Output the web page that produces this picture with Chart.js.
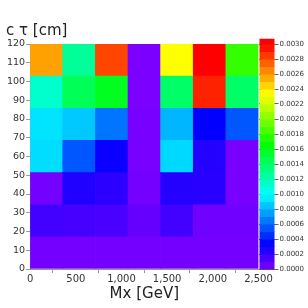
<!DOCTYPE html>
<html>
<head>
<meta charset="utf-8">
<script src="https://cdn.jsdelivr.net/npm/chart.js@4"></script>
<style>
body{margin:0;background:#fff}
#wrap{width:308px;height:308px}
</style>
</head>
<body>
<div id="wrap"><canvas id="grafico"></canvas></div>
<script>
// bins: 7 mass bins x 7 lifetime bins
const mxEdges=[0,357.14,714.29,1071.43,1428.57,1785.71,2142.86,2500]
const ctauEdges=[0,17.14,34.29,51.43,68.57,85.71,102.86,120]
// values per c tau row, bottom row first
const fila1=[0.00003,0.00003,0.00003,0.00003,0.00003,0.00003,0.00003]
const fila2=[0.00016,0.00015,0.00014,0.00007,0.00016,0.00004,0.00004]
const fila3=[0.00003,0.00025,0.00022,0.00003,0.00024,0.00023,0.00002]
const fila4=[0.00091,0.00056,0.00031,0.00002,0.00090,0.00024,0.00002]
const fila5=[0.00093,0.00086,0.00064,0.00002,0.00081,0.00033,0.00056]
const fila6=[0.00113,0.00144,0.00158,0.00001,0.00140,0.00291,0.00140]
const fila7=[0.00258,0.00127,0.00282,0.00001,0.00233,0.00300,0.00180]
const filas=[fila1,fila2,fila3,fila4,fila5,fila6,fila7]
const colorMax=0.003

const colorDe=(v)=>{
    let t=Math.min(Math.max(v/colorMax,0),1)
    return 'hsl('+(270*(1-t)).toFixed(1)+',100%,50%)'
}

const datasets=filas.map((fila,j)=>({
    label:'fila'+j,
    data:fila.map((v,i)=>({x:(mxEdges[i]+mxEdges[i+1])/2,y:[ctauEdges[j],ctauEdges[j+1]]})),
    backgroundColor:fila.map(colorDe),
    borderWidth:0,
    grouped:false,
    barPercentage:1,
    categoryPercentage:1
}))

const barraColor={
    id:'barraColor',
    afterDraw(chart){
        const s=chart.scales.cb
        const c=chart.ctx
        const x0=s.left+1
        c.save()
        for(let k=0;k<31;k++){
            let lo=k*0.0001
            let hi=Math.min((k+1)*0.0001,0.00307)
            let y0=s.getPixelForValue(lo)
            let y1=s.getPixelForValue(hi)
            c.fillStyle=colorDe((lo+hi)/2)
            c.fillRect(x0,y1,15,y0-y1+0.5)
        }
        c.restore()
    }
}

const gris='#999'
const texto='#333'
new Chart(document.getElementById('grafico'),{
    type:'bar',
    data:{datasets:datasets},
    options:{
        responsive:true,
        maintainAspectRatio:false,
        animation:false,
        layout:{padding:{left:6,right:3,top:0,bottom:5}},
        plugins:{
            legend:{display:false},
            tooltip:{enabled:false},
            title:{
                display:true,
                text:'c τ [cm]',
                align:'start',
                color:'#222',
                font:{family:'DejaVu Sans',size:15,weight:'normal'},
                padding:{top:22,bottom:4}
            }
        },
        scales:{
            x:{
                type:'linear',
                min:0,max:2500,
                offset:false,
                grid:{drawOnChartArea:false,tickLength:4,color:gris},
                border:{color:gris},
                ticks:{stepSize:500,color:texto,padding:0,maxRotation:0,font:{family:'DejaVu Sans',size:10}},
                title:{display:true,text:'Mx [GeV]',color:'#222',padding:{top:0,bottom:0},font:{family:'DejaVu Sans',size:15}}
            },
            y:{
                type:'linear',
                min:0,max:120,
                grid:{drawOnChartArea:false,tickLength:4,color:gris},
                border:{color:gris},
                ticks:{stepSize:10,color:texto,padding:1,font:{family:'DejaVu Sans',size:9.5}}
            },
            cb:{
                type:'linear',
                position:'right',
                min:0,max:0.003,
                grid:{drawOnChartArea:false,tickLength:20,color:'#666'},
                border:{display:false},
                ticks:{stepSize:0.0002,color:texto,padding:1,font:{family:'DejaVu Sans',size:7},
                    callback:(v)=>v.toFixed(4)}
            }
        }
    },
    plugins:[barraColor]
})
</script>
</body>
</html>
